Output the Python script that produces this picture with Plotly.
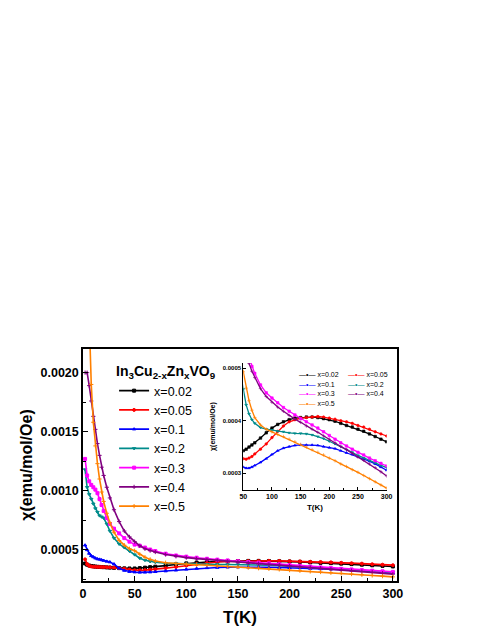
import plotly.graph_objects as go

# temperature points (K), shared by every sample
temps = [2, 4, 6, 8, 10, 12, 14, 16, 18, 20, 23, 26, 30, 35, 40, 45, 50, 55, 60, 65, 70,
         80, 90, 100, 110, 120, 130, 140, 150, 160, 170, 180, 190, 200, 210, 220, 230,
         240, 250, 260, 270, 280, 290, 300]

# susceptibility chi (emu/mol/Oe) for each Zn content
chi_002 = [0.000385, 0.000375, 0.000368, 0.000364, 0.000361, 0.000359, 0.000357, 0.000356,
           0.000355, 0.000354, 0.000352, 0.000350, 0.000348, 0.000346, 0.000344, 0.000343,
           0.000343, 0.000346, 0.000350, 0.000354, 0.000358, 0.000367, 0.000377, 0.000386,
           0.000393, 0.000398, 0.000402, 0.000405, 0.000406, 0.000407, 0.000407, 0.000406,
           0.000404, 0.000402, 0.000399, 0.000395, 0.000391, 0.000388, 0.000384, 0.000380,
           0.000375, 0.000370, 0.000365, 0.000360]
chi_005 = [0.000420, 0.000380, 0.000365, 0.000360, 0.000358, 0.000357, 0.000356, 0.000356,
           0.000355, 0.000355, 0.000354, 0.000353, 0.000351, 0.000347, 0.000341, 0.000334,
           0.000328, 0.000327, 0.000329, 0.000332, 0.000337, 0.000346, 0.000356, 0.000368,
           0.000380, 0.000390, 0.000398, 0.000402, 0.000405, 0.000406, 0.000407, 0.000408,
           0.000407, 0.000405, 0.000403, 0.000400, 0.000398, 0.000395, 0.000391, 0.000388,
           0.000384, 0.000379, 0.000375, 0.000371]
chi_01 = [0.000540, 0.000500, 0.000470, 0.000450, 0.000440, 0.000430, 0.000423, 0.000420,
          0.000415, 0.000410, 0.000403, 0.000397, 0.000380, 0.000345, 0.000326, 0.000316,
          0.000312, 0.000310, 0.000310, 0.000312, 0.000315, 0.000321, 0.000328, 0.000336,
          0.000343, 0.000348, 0.000351, 0.000353, 0.000354, 0.000354, 0.000354, 0.000353,
          0.000351, 0.000349, 0.000347, 0.000343, 0.000339, 0.000336, 0.000332, 0.000327,
          0.000323, 0.000318, 0.000312, 0.000306]
chi_02 = [0.001180, 0.001030, 0.000970, 0.000930, 0.000890, 0.000850, 0.000820, 0.000790,
          0.000780, 0.000770, 0.000720, 0.000660, 0.000600, 0.000550, 0.000520, 0.000490,
          0.000460, 0.000430, 0.000413, 0.000402, 0.000395, 0.000387, 0.000384, 0.000382,
          0.000380, 0.000379, 0.000377, 0.000376, 0.000376, 0.000375, 0.000373, 0.000370,
          0.000366, 0.000361, 0.000356, 0.000351, 0.000345, 0.000340, 0.000334, 0.000329,
          0.000325, 0.000320, 0.000315, 0.000311]
chi_03 = [0.001270, 0.001130, 0.001080, 0.001050, 0.001030, 0.001010, 0.000980, 0.000930,
          0.000880, 0.000830, 0.000770, 0.000720, 0.000680, 0.000640, 0.000600, 0.000570,
          0.000545, 0.000535, 0.000520, 0.000503, 0.000490, 0.000468, 0.000453, 0.000443,
          0.000434, 0.000425, 0.000418, 0.000411, 0.000404, 0.000398, 0.000392, 0.000386,
          0.000379, 0.000372, 0.000365, 0.000358, 0.000352, 0.000346, 0.000340, 0.000335,
          0.000329, 0.000324, 0.000319, 0.000314]
chi_04 = [0.002000, 0.002000, 0.001890, 0.001760, 0.001630, 0.001520, 0.001400, 0.001300,
          0.001200, 0.001130, 0.001030, 0.000940, 0.000840, 0.000740, 0.000660, 0.000610,
          0.000570, 0.000535, 0.000509, 0.000494, 0.000482, 0.000461, 0.000446, 0.000435,
          0.000426, 0.000418, 0.000410, 0.000403, 0.000397, 0.000390, 0.000384, 0.000378,
          0.000371, 0.000365, 0.000358, 0.000351, 0.000345, 0.000338, 0.000331, 0.000325,
          0.000318, 0.000311, 0.000303, 0.000295]
chi_05 = [0.003600, 0.003000, 0.002450, 0.001900, 0.001580, 0.001380, 0.001230, 0.001100,
          0.000990, 0.000910, 0.000810, 0.000730, 0.000650, 0.000580, 0.000540, 0.000510,
          0.000493, 0.000462, 0.000438, 0.000420, 0.000406, 0.000392, 0.000384, 0.000379,
          0.000374, 0.000370, 0.000365, 0.000360, 0.000355, 0.000350, 0.000345, 0.000340,
          0.000335, 0.000329, 0.000324, 0.000318, 0.000313, 0.000307, 0.000302, 0.000296,
          0.000290, 0.000284, 0.000278, 0.000272]

labels = ["x=0.02", "x=0.05", "x=0.1", "x=0.2", "x=0.3", "x=0.4", "x=0.5"]
series = [chi_002, chi_005, chi_01, chi_02, chi_03, chi_04, chi_05]
colors = ["#000000", "#FF0000", "#0000FF", "#008B8B", "#FF00FF", "#800080", "#FF8000"]
symbols = ["square", "circle", "triangle-up", "triangle-down", "square", "cross-thin", "cross-thin"]

FONT = "Liberation Sans, Arial, sans-serif"

fig = go.Figure()

# ---------- main panel ----------
for lab, ys, col, sym in zip(labels, series, colors, symbols):
    fig.add_trace(go.Scatter(
        x=temps, y=ys, name=lab, mode="lines+markers",
        line=dict(color=col, width=1.6),
        marker=dict(symbol=sym, size=3, color=col, line=dict(color=col, width=1)),
        xaxis="x", yaxis="y", legend="legend",
    ))

# ---------- inset ----------
for lab, ys, col, sym in zip(labels, series, colors, symbols):
    fig.add_trace(go.Scatter(
        x=temps, y=ys, name=lab, mode="lines+markers", showlegend=False,
        line=dict(color=col, width=1.3),
        marker=dict(symbol=sym, size=2.5, color=col, line=dict(color=col, width=0.6)),
        xaxis="x2", yaxis="y2",
    ))

# inset key: two columns of small entries in the upper right of the inset
inset_key = []
for i, (lab, col) in enumerate(zip(labels, colors)):
    column, row = i % 2, i // 2
    inset_key.append(dict(
        xref="paper", yref="paper", x=0.6815 + column * 0.156, y=0.888 - row * 0.0403,
        xanchor="left", yanchor="middle", showarrow=False,
        text=f'<span style="color:{col}">—•—</span> {lab}',
        font=dict(size=7, color="black"),
    ))

fig.update_layout(
    # the page body adds 8 px round the figure, so the figure is 16 px smaller
    width=483, height=627,
    margin=dict(l=75, r=94, t=341, b=54),
    paper_bgcolor="white", plot_bgcolor="white",
    font=dict(family=FONT, color="black"),
    xaxis=dict(
        domain=[0, 1], anchor="y", range=[0, 304],
        tickvals=[0, 50, 100, 150, 200, 250, 300],
        ticks="inside", ticklen=5, tickwidth=1.2, tickcolor="black",
        minor=dict(ticks="inside", dtick=25, ticklen=3, tickcolor="black"),
        showline=True, linewidth=1.5, linecolor="black", mirror=True,
        showgrid=False, zeroline=False, automargin=False,
        tickfont=dict(size=12.5, weight="bold"),
        title=dict(text="T(K)", font=dict(size=17, weight="bold"), standoff=11),
    ),
    yaxis=dict(
        domain=[0, 1], anchor="x", range=[0.000237, 0.0022],
        tickvals=[0.0005, 0.0010, 0.0015, 0.0020], tickformat=".4f",
        ticks="inside", ticklen=5, tickwidth=1.2, tickcolor="black",
        minor=dict(ticks="inside", dtick=0.00025, tick0=0, ticklen=3, tickcolor="black"),
        showline=True, linewidth=1.5, linecolor="black", mirror=True,
        showgrid=False, zeroline=False, automargin=False,
        tickfont=dict(size=12.5, weight="bold"),
        title=dict(text="χ(emu/mol/Oe)", font=dict(size=16, weight="bold"), standoff=4),
    ),
    xaxis2=dict(
        domain=[0.5105, 0.967], anchor="y2", range=[50, 300],
        tickvals=[50, 100, 150, 200, 250, 300],
        ticks="inside", ticklen=3, tickwidth=1, tickcolor="black",
        minor=dict(ticks="inside", dtick=25, ticklen=2, tickcolor="black"),
        showline=True, linewidth=1, linecolor="black",
        showgrid=False, zeroline=False, automargin=False,
        tickfont=dict(size=7, weight="bold"),
        title=dict(text="T(K)", font=dict(size=8, weight="bold"), standoff=4),
    ),
    yaxis2=dict(
        domain=[0.392, 0.9397], anchor="x2", range=[0.0002683, 0.0005097],
        tickvals=[0.0003, 0.0004, 0.0005], tickformat=".4f",
        ticks="inside", ticklen=3, tickwidth=1, tickcolor="black",
        showline=True, linewidth=1, linecolor="black",
        showgrid=False, zeroline=False, automargin=False,
        tickfont=dict(size=6, weight="bold"),
        title=dict(text="χ(emu/mol/Oe)", font=dict(size=7, weight="bold"), standoff=6),
    ),
    legend=dict(
        x=0.099, y=0.962, xanchor="left", yanchor="top",
        bgcolor="rgba(0,0,0,0)", font=dict(size=12.5), tracegroupgap=0,
        title=dict(text="In<sub>3</sub>Cu<sub>2-x</sub>Zn<sub>x</sub>VO<sub>9</sub>",
                   font=dict(size=14, weight="bold")),
    ),
    annotations=inset_key,
)

fig.write_html("out.html")
